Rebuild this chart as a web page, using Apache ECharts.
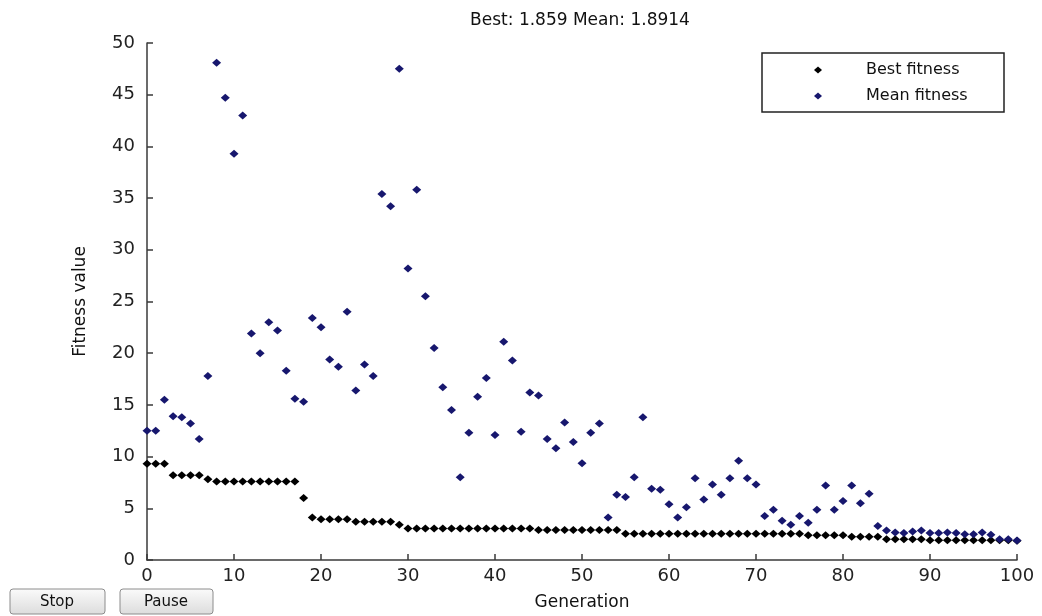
<!DOCTYPE html>
<html>
<head>
<meta charset="utf-8">
<script src="https://cdn.jsdelivr.net/npm/echarts@6/dist/echarts.min.js"></script>
<style>
html,body{margin:0;padding:0;background:#fff;}
#chart{width:1042px;height:616px;}
</style>
</head>
<body>
<div id="chart"></div>
<script>
var titleText = 'Best: 1.859 Mean: 1.8914';
var xTicks = [0, 10, 20, 30, 40, 50, 60, 70, 80, 90, 100];
var yTicks = [0, 5, 10, 15, 20, 25, 30, 35, 40, 45, 50];
var seriesNames = ['Best fitness', 'Mean fitness'];

var bestFitness = [
  9.3, 9.3, 9.3, 8.2, 8.2, 8.2, 8.2, 7.8, 7.6, 7.6,
  7.6, 7.6, 7.6, 7.6, 7.6, 7.6, 7.6, 7.6, 6.0, 4.1,
  3.95, 3.95, 3.95, 3.95, 3.7, 3.7, 3.7, 3.7, 3.7, 3.4,
  3.05, 3.05, 3.05, 3.05, 3.05, 3.05, 3.05, 3.05, 3.05, 3.05,
  3.05, 3.05, 3.05, 3.05, 3.05, 2.9, 2.9, 2.9, 2.9, 2.9,
  2.9, 2.9, 2.9, 2.9, 2.9, 2.55, 2.55, 2.55, 2.55, 2.55,
  2.55, 2.55, 2.55, 2.55, 2.55, 2.55, 2.55, 2.55, 2.55, 2.55,
  2.55, 2.55, 2.55, 2.55, 2.55, 2.55, 2.4, 2.4, 2.4, 2.4,
  2.4, 2.25, 2.25, 2.25, 2.25, 2.0, 2.0, 2.0, 2.0, 2.0,
  1.9, 1.9, 1.9, 1.9, 1.9, 1.9, 1.9, 1.9, 1.9, 1.9,
  1.859
];

var meanFitness = [
  12.5, 12.5, 15.5, 13.9, 13.8, 13.2, 11.7, 17.8, 48.1, 44.7,
  39.3, 43.0, 21.9, 20.0, 23.0, 22.2, 18.3, 15.6, 15.3, 23.4,
  22.5, 19.4, 18.7, 24.0, 16.4, 18.9, 17.8, 35.4, 34.2, 47.5,
  28.2, 35.8, 25.5, 20.5, 16.7, 14.5, 8.0, 12.3, 15.8, 17.6,
  12.1, 21.1, 19.3, 12.4, 16.2, 15.9, 11.7, 10.8, 13.3, 11.4,
  9.35, 12.3, 13.2, 4.1, 6.3, 6.1, 8.0, 13.8, 6.9, 6.8,
  5.4, 4.1, 5.1, 7.9, 5.85, 7.3, 6.3, 7.9, 9.6, 7.9,
  7.3, 4.25, 4.85, 3.8, 3.4, 4.25, 3.6, 4.85, 7.2, 4.85,
  5.7, 7.2, 5.5, 6.4, 3.3, 2.85, 2.65, 2.6, 2.75, 2.85,
  2.6, 2.6, 2.65, 2.6, 2.5, 2.5, 2.65, 2.45, 2.0, 2.0,
  1.8914
];

var FONT = 'DejaVu Sans';
var chart = echarts.init(document.getElementById('chart'), null, {renderer: 'canvas'});

function btnGradient() {
  return new echarts.graphic.LinearGradient(0, 0, 0, 1, [
    {offset: 0, color: '#fbfbfb'},
    {offset: 1, color: '#dcdcdc'}
  ]);
}

var option = {
  backgroundColor: '#ffffff',
  animation: false,
  title: {
    text: titleText,
    left: 580,
    top: 12,
    padding: 0,
    textAlign: 'center',
    textStyle: {fontFamily: FONT, fontSize: 17, fontWeight: 'normal', color: '#111'}
  },
  grid: {left: 147, right: 25, top: 43, bottom: 54},
  legend: {
    orient: 'vertical',
    left: 814,
    top: 60,
    padding: 0,
    itemGap: 6,
    itemWidth: 8,
    itemHeight: 7,
    data: seriesNames.map(function (n) { return {name: n, icon: 'diamond'}; }),
    textStyle: {fontFamily: FONT, fontSize: 16, color: '#111', lineHeight: 20, padding: [0, 0, 0, 39]}
  },
  xAxis: {
    type: 'value',
    min: xTicks[0],
    max: xTicks[xTicks.length - 1],
    interval: 10,
    name: 'Generation',
    nameLocation: 'middle',
    nameGap: 34,
    nameTextStyle: {fontFamily: FONT, fontSize: 17, color: '#111'},
    axisLine: {show: true, lineStyle: {color: '#3a3a3a', width: 1.5}},
    axisTick: {show: true, inside: true, length: 6, lineStyle: {color: '#3a3a3a', width: 1.5}},
    axisLabel: {fontFamily: FONT, fontSize: 18, color: '#222', margin: 7},
    splitLine: {show: false}
  },
  yAxis: {
    type: 'value',
    min: yTicks[0],
    max: yTicks[yTicks.length - 1],
    interval: 5,
    name: 'Fitness value',
    nameLocation: 'middle',
    nameGap: 58,
    nameRotate: 90,
    nameTextStyle: {fontFamily: FONT, fontSize: 17, color: '#111'},
    axisLine: {show: true, lineStyle: {color: '#3a3a3a', width: 1.5}},
    axisTick: {show: true, inside: true, length: 6, lineStyle: {color: '#3a3a3a', width: 1.5}},
    axisLabel: {fontFamily: FONT, fontSize: 18, color: '#222', margin: 12},
    splitLine: {show: false}
  },
  series: [
    {
      name: seriesNames[0],
      type: 'scatter',
      symbol: 'diamond',
      symbolSize: [9, 8],
      itemStyle: {color: '#000000', opacity: 1},
      data: bestFitness.map(function (v, i) { return [i, v]; })
    },
    {
      name: seriesNames[1],
      type: 'scatter',
      symbol: 'diamond',
      symbolSize: [9, 8],
      itemStyle: {color: '#17176e', opacity: 1},
      data: meanFitness.map(function (v, i) { return [i, v]; })
    }
  ],
  graphic: [
    {
      type: 'rect',
      shape: {x: 762, y: 53, width: 242, height: 59},
      style: {fill: 'none', stroke: '#222', lineWidth: 1.5},
      z: 100
    },
    {
      type: 'rect',
      shape: {x: 10, y: 589, width: 95, height: 25, r: 3},
      style: {fill: btnGradient(), stroke: '#8c8c8c', lineWidth: 1}
    },
    {
      type: 'text',
      x: 57, y: 602,
      style: {text: 'Stop', fontFamily: FONT, fontSize: 15, fill: '#111', align: 'center', verticalAlign: 'middle'}
    },
    {
      type: 'rect',
      shape: {x: 120, y: 589, width: 93, height: 25, r: 3},
      style: {fill: btnGradient(), stroke: '#8c8c8c', lineWidth: 1}
    },
    {
      type: 'text',
      x: 166, y: 602,
      style: {text: 'Pause', fontFamily: FONT, fontSize: 15, fill: '#111', align: 'center', verticalAlign: 'middle'}
    }
  ]
};
chart.setOption(option);
</script>
</body>
</html>
